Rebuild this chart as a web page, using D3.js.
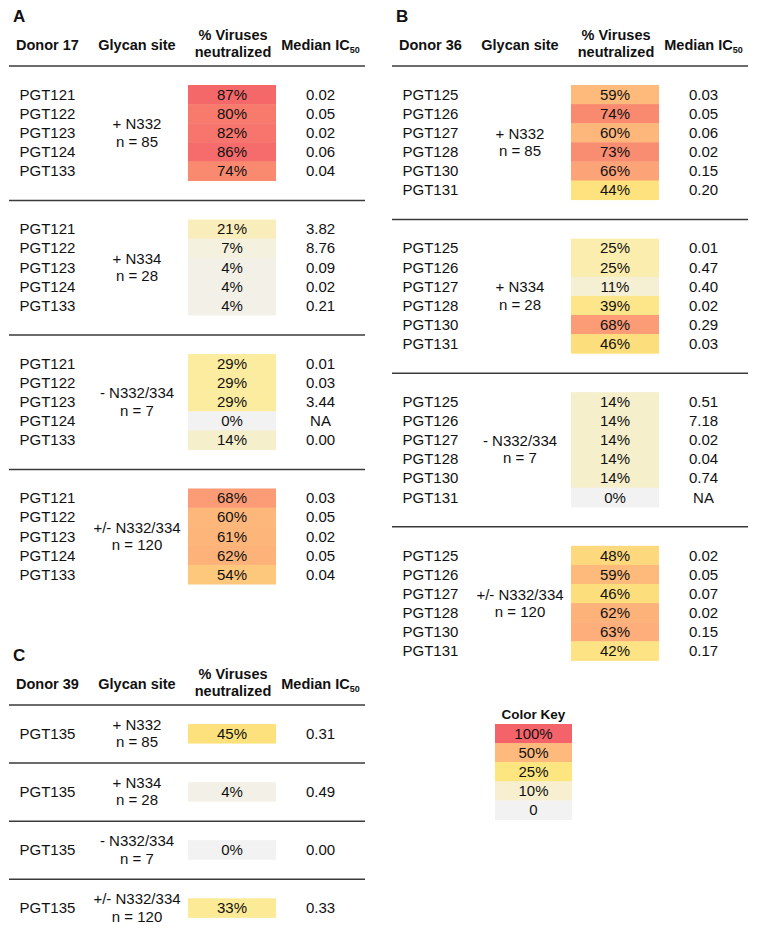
<!DOCTYPE html>
<html>
<head>
<meta charset="utf-8">
<script src="https://cdn.jsdelivr.net/npm/d3@7/dist/d3.min.js"></script>
<style>
  html, body { margin: 0; padding: 0; background: #fff; }
  svg { display: block; font-family: "Liberation Sans", Arial, sans-serif; }
</style>
</head>
<body>
<script>
// ---------------- DATA ----------------
const antibodiesA = ["PGT121", "PGT122", "PGT123", "PGT124", "PGT133"];
const antibodiesB = ["PGT125", "PGT126", "PGT127", "PGT128", "PGT130", "PGT131"];
const antibodiesC = ["PGT135"];
const glycanSites = ["+ N332", "+ N334", "- N332/334", "+/- N332/334"];
const glycanN = ["n = 85", "n = 28", "n = 7", "n = 120"];

const pctA = [
  [87, 80, 82, 86, 74],
  [21, 7, 4, 4, 4],
  [29, 29, 29, 0, 14],
  [68, 60, 61, 62, 54]
];
const ic50A = [
  ["0.02", "0.05", "0.02", "0.06", "0.04"],
  ["3.82", "8.76", "0.09", "0.02", "0.21"],
  ["0.01", "0.03", "3.44", "NA", "0.00"],
  ["0.03", "0.05", "0.02", "0.05", "0.04"]
];
const pctB = [
  [59, 74, 60, 73, 66, 44],
  [25, 25, 11, 39, 68, 46],
  [14, 14, 14, 14, 14, 0],
  [48, 59, 46, 62, 63, 42]
];
const ic50B = [
  ["0.03", "0.05", "0.06", "0.02", "0.15", "0.20"],
  ["0.01", "0.47", "0.40", "0.02", "0.29", "0.03"],
  ["0.51", "7.18", "0.02", "0.04", "0.74", "NA"],
  ["0.02", "0.05", "0.07", "0.02", "0.15", "0.17"]
];
const pctC = [[45], [4], [0], [33]];
const ic50C = [["0.31"], ["0.49"], ["0.00"], ["0.33"]];

const keyLabels = ["100%", "50%", "25%", "10%", "0"];

// ---------------- COLOUR SCALES ----------------
const heatStops = [0, 10, 22, 30, 45, 55, 62, 68, 74, 81, 88, 100];
const heatColors = ["#f2f2f2", "#f5f0d6", "#f9edb8", "#fcec9d", "#fde17c", "#fdc47c",
                    "#fdb27a", "#fb9c77", "#f98a70", "#f7776c", "#f5666a", "#f4606a"];
const heat = d3.scaleLinear().domain(heatStops).range(heatColors).interpolate(d3.interpolateRgb).clamp(true);
const keyColor = d3.scaleOrdinal().domain(keyLabels)
  .range(["#f5636a", "#fdba7c", "#fde680", "#f7efcf", "#f2f2f2"]);

// ---------------- SVG ----------------
const W = 758, H = 929;
const svg = d3.select("body").append("svg").attr("width", W).attr("height", H);

const FS = 15;          // body font size
const HFS = 14.5;       // header font size
const TXT = "#111";
const LINE = "#3a3a3a";
const ROW = 19.1;
const GAP_TOP = 19, GAP_BOT = 20;

function drawPanel(opts) {
  const { x0, lineY, letter, donor, abs, pcts, ics, twoLineEach } = opts;
  const g = svg.append("g").attr("transform", `translate(${x0},0)`);

  const col = { ab: 10.5, glycan: 128, cellL: 179, cellR: 267, pct: 223, ic: 311.5, lineL: 0, lineR: 356 };

  // panel letter
  g.append("text").attr("x", 4).attr("y", lineY - 44)
    .attr("font-size", 17).attr("font-weight", "bold").attr("fill", TXT).text(letter);

  // headers
  const hdr = g.append("g").attr("font-size", HFS).attr("font-weight", "bold").attr("fill", TXT);
  hdr.append("text").attr("x", col.ab - 3.5).attr("y", lineY - 16.5).text(donor);
  hdr.append("text").attr("x", col.glycan).attr("y", lineY - 16.5).attr("text-anchor", "middle").text("Glycan site");
  hdr.append("text").attr("x", col.pct + 1).attr("y", lineY - 26).attr("text-anchor", "middle").text("% Viruses");
  hdr.append("text").attr("x", col.pct + 1).attr("y", lineY - 9).attr("text-anchor", "middle").text("neutralized");
  const med = hdr.append("text").attr("x", col.ic).attr("y", lineY - 16.5).attr("text-anchor", "middle");
  med.append("tspan").text("Median IC");
  med.append("tspan").attr("font-size", 9).attr("dy", 3.5).text("50");

  // header line
  g.append("line").attr("x1", col.lineL).attr("x2", col.lineR)
    .attr("y1", lineY).attr("y2", lineY).attr("stroke", LINE).attr("stroke-width", 1.5);

  let sepY = lineY;
  pcts.forEach((vals, s) => {
    const n = vals.length;
    const top = sepY + GAP_TOP;
    const y = d3.scaleBand().domain(d3.range(n)).range([top, top + n * ROW]).padding(0);
    const sg = g.append("g");

    // heat cells
    sg.selectAll("rect").data(vals).join("rect")
      .attr("x", col.cellL).attr("width", col.cellR - col.cellL)
      .attr("y", (d, i) => y(i)).attr("height", y.bandwidth() + 0.5)
      .attr("fill", d => heat(d));

    // percent labels
    sg.selectAll("text.pct").data(vals).join("text").attr("class", "pct")
      .attr("x", col.pct).attr("y", (d, i) => y(i) + y.bandwidth() / 2 + 5.3)
      .attr("text-anchor", "middle").attr("font-size", FS).attr("fill", TXT)
      .text(d => d + "%");

    // antibody names
    sg.selectAll("text.ab").data(abs).join("text").attr("class", "ab")
      .attr("x", col.ab).attr("y", (d, i) => y(i) + y.bandwidth() / 2 + 5.3)
      .attr("font-size", FS).attr("fill", TXT).text(d => d);

    // IC50 values
    sg.selectAll("text.ic").data(ics[s]).join("text").attr("class", "ic")
      .attr("x", col.ic).attr("y", (d, i) => y(i) + y.bandwidth() / 2 + 5.3)
      .attr("text-anchor", "middle").attr("font-size", FS).attr("fill", TXT).text(d => d);

    // glycan site label
    const mid = top + n * ROW / 2;
    const gl = sg.append("text").attr("text-anchor", "middle").attr("font-size", FS).attr("fill", TXT);
    gl.append("tspan").attr("x", col.glycan).attr("y", mid - 3.5).text(glycanSites[s]);
    gl.append("tspan").attr("x", col.glycan).attr("y", mid + 13.8).text(glycanN[s]);

    sepY = top + n * ROW + GAP_BOT;
    if (s < pcts.length - 1) {
      g.append("line").attr("x1", col.lineL).attr("x2", col.lineR)
        .attr("y1", sepY).attr("y2", sepY).attr("stroke", LINE).attr("stroke-width", 1.5);
    }
  });
}

drawPanel({ x0: 9, lineY: 66, letter: "A", donor: "Donor 17", abs: antibodiesA, pcts: pctA, ics: ic50A });
drawPanel({ x0: 392, lineY: 66, letter: "B", donor: "Donor 36", abs: antibodiesB, pcts: pctB, ics: ic50B });
drawPanel({ x0: 9, lineY: 705, letter: "C", donor: "Donor 39", abs: antibodiesC, pcts: pctC, ics: ic50C });

// ---------------- COLOR KEY ----------------
const key = svg.append("g");
const kx = d3.scaleLinear().domain([0, 1]).range([495, 572]);
const ky = d3.scaleBand().domain(keyLabels).range([724, 724 + keyLabels.length * ROW]);
key.append("text").attr("x", (kx(0) + kx(1)) / 2).attr("y", 719)
  .attr("text-anchor", "middle").attr("font-size", 13.5).attr("font-weight", "bold").attr("fill", TXT)
  .text("Color Key");
key.selectAll("rect").data(keyLabels).join("rect")
  .attr("x", kx(0)).attr("width", kx(1) - kx(0))
  .attr("y", d => ky(d)).attr("height", ky.bandwidth() + 0.5)
  .attr("fill", d => keyColor(d));
key.selectAll("text.k").data(keyLabels).join("text").attr("class", "k")
  .attr("x", (kx(0) + kx(1)) / 2).attr("y", d => ky(d) + ky.bandwidth() / 2 + 5.3)
  .attr("text-anchor", "middle").attr("font-size", FS).attr("fill", TXT).text(d => d);
</script>
</body>
</html>
